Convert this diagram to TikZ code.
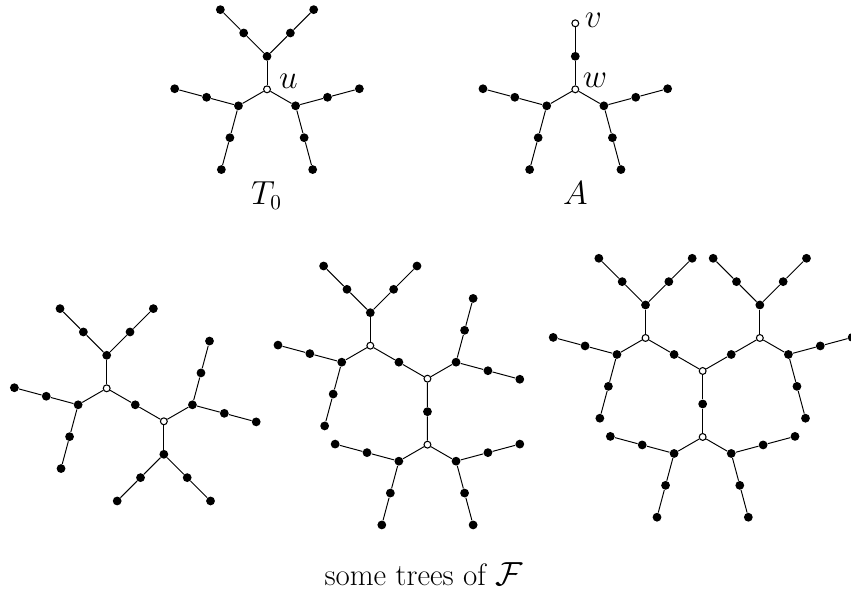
\documentclass[tikz,border=0pt]{standalone}
\usetikzlibrary{calc}
\begin{document}
\begin{tikzpicture}[x=1mm,y=1mm,
  font=\fontsize{16}{19}\selectfont,
  vtx/.style={circle,fill=black,inner sep=0pt,minimum size=1.6mm},
  root/.style={circle,draw=black,fill=white,line width=.55pt,inner sep=0pt,minimum size=1.25mm},
  edge/.style={draw=black,line width=.5pt}
]
% Edge length is 6 mm everywhere; hubs branch off at +-45 degrees.
\path[use as bounding box] (0,0) rectangle (154.73,-107.82);

% T_0 and A
\node[root] (u) at (48.55,-16.24) {};
\node[root] (w) at (104.6,-16.24) {};
\path (w) ++(90:6) node[vtx] (wv) {} ++(90:6) node[root] (v) {};
\draw[edge] (w) -- (wv) -- (v);

% first tree of F
\node[root] (f1a) at (19.4,-70.6) {};
\path (f1a) ++(-30:6) node[vtx] (f1ab) {} ++(-30:6) node[root] (f1b) {};
\draw[edge] (f1a) -- (f1ab) -- (f1b);

% second tree of F
\node[root] (f2a) at (67.33,-62.85) {};
\path (f2a) ++(-30:6) node[vtx] (f2ab) {} ++(-30:6) node[root] (f2b) {};
\path (f2b) ++(270:6) node[vtx] (f2bc) {} ++(270:6) node[root] (f2c) {};
\draw[edge] (f2a) -- (f2ab) -- (f2b) -- (f2bc) -- (f2c);

% third tree of F
\node[root] (f3m) at (127.76,-67.45) {};
\path (f3m) ++(150:6) node[vtx] (f3ml) {} ++(150:6) node[root] (f3l) {};
\path (f3m) ++(30:6) node[vtx] (f3mr) {} ++(30:6) node[root] (f3r) {};
\path (f3m) ++(270:6) node[vtx] (f3md) {} ++(270:6) node[root] (f3d) {};
\draw[edge] (f3l) -- (f3ml) -- (f3m) -- (f3mr) -- (f3r);
\draw[edge] (f3m) -- (f3md) -- (f3d);

% hubs, each with two paths of length two
\foreach \c/\a in {u/90,u/210,u/330,w/210,w/330,
                   f1a/90,f1a/210,f1b/30,f1b/270,
                   f2a/90,f2a/210,f2b/30,f2c/210,f2c/330,
                   f3l/90,f3l/210,f3r/90,f3r/330,f3d/210,f3d/330}{
  \path (\c) ++(\a:6) node[vtx] (\c-\a) {};
  \draw[edge] (\c) -- (\c-\a);
  \foreach \s/\t in {-45/a,45/b}{
    \path (\c-\a) ++({\a+\s}:6) node[vtx] (\c-\a-\t) {}
                  ++({\a+\s}:6) node[vtx] (\c-\a-\t-end) {};
    \draw[edge] (\c-\a) -- (\c-\a-\t) -- (\c-\a-\t-end);
  }
}

\node (ulab) at ($(u)+(3.9,1.45)$) {$u$};
\node (vlab) at ($(v)+(3.3,0.55)$) {$v$};
\node (wlab) at ($(w)+(3.6,1.6)$) {$w$};
\node[anchor=base] (t0lab) at (48.45,-37.27) {$T_0$};
\node[anchor=base] (alab) at (104.6,-37.27) {$A$};
\node[anchor=base] (caption) at (77.0,-106.4) {some trees of $\mathcal{F}$};
\end{tikzpicture}
\end{document}
